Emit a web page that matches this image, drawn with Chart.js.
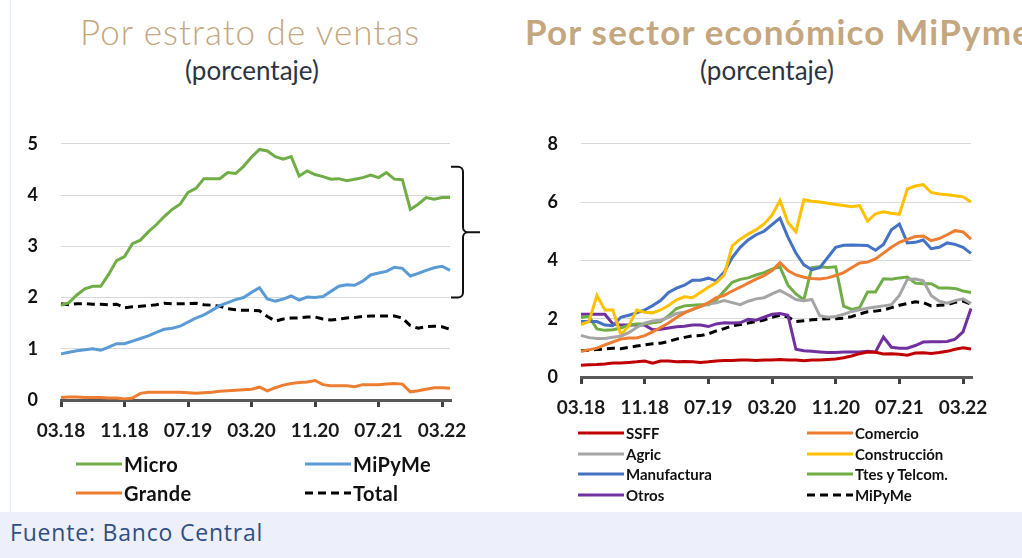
<!DOCTYPE html>
<html>
<head>
<meta charset="utf-8">
<script src="https://cdn.jsdelivr.net/npm/chart.js@4.4.0/dist/chart.umd.min.js"></script>
<style>
  body { margin: 0; width: 1022px; height: 558px; overflow: hidden; background: #fff; position: relative; font-family: Lato, sans-serif; }
  #edge { position: absolute; left: 10px; top: 0; width: 1px; height: 512px; background: #dfe6f3; }
  .title { position: absolute; top: 14px; font-size: 35px; line-height: 1; color: #c4a77f; white-space: nowrap; }
  #t1 { left: 60px; width: 380px; text-align: center; font-weight: 300; letter-spacing: 1px; }
  #t2 { left: 525px; font-weight: 700; letter-spacing: 1.2px; }
  .sub { position: absolute; top: 57px; font-size: 26px; line-height: 1; color: #2b3440; white-space: nowrap; transform: translateX(-50%); }
  #s1 { left: 252px; }
  #s2 { left: 767px; }
  .box { position: absolute; }
  #box1 { left: 0; top: 110px; width: 500px; height: 350px; }
  #box2 { left: 510px; top: 110px; width: 512px; height: 320px; }
  .legend { position: absolute; display: grid; font-weight: 700; color: #111; }
  #legend1 { left: 76px; top: 449px; grid-template-columns: 229px 160px; grid-auto-rows: 29px; font-size: 20px; letter-spacing: 0.4px; }
  #legend2 { left: 578px; top: 423px; grid-template-columns: 229px 170px; grid-auto-rows: 20.5px; font-size: 15px; }
  .item { display: flex; align-items: center; white-space: nowrap; }
  .item svg { margin-right: 2px; }
  #foot { position: absolute; left: 0; top: 512px; width: 1022px; height: 46px; background: #edf0fa; }
  #foot span { position: absolute; left: 10px; top: 9px; font-family: "Open Sans", sans-serif; font-size: 23px; line-height: 1; letter-spacing: 0.8px; color: #2f4f7f; }
</style>
</head>
<body>
<div id="edge"></div>
<div class="title" id="t1">Por estrato de ventas</div>
<div class="title" id="t2">Por sector económico MiPyme</div>
<div class="sub" id="s1">(porcentaje)</div>
<div class="sub" id="s2">(porcentaje)</div>
<div class="box" id="box1"><canvas id="chartVentas"></canvas></div>
<div class="box" id="box2"><canvas id="chartSector"></canvas></div>
<div class="legend" id="legend1"></div>
<div class="legend" id="legend2"></div>
<div id="foot"><span>Fuente: Banco Central</span></div>

<script>
// months 03.18 .. 04.22
const months = [
  '03.18','04.18','05.18','06.18','07.18','08.18','09.18','10.18','11.18','12.18',
  '01.19','02.19','03.19','04.19','05.19','06.19','07.19','08.19','09.19','10.19',
  '11.19','12.19','01.20','02.20','03.20','04.20','05.20','06.20','07.20','08.20',
  '09.20','10.20','11.20','12.20','01.21','02.21','03.21','04.21','05.21','06.21',
  '07.21','08.21','09.21','10.21','11.21','12.21','01.22','02.22','03.22','04.22'
];
const labelEvery = 8;

// Por estrato de ventas
const micro = [1.85,1.90,2.05,2.17,2.22,2.22,2.45,2.72,2.80,3.05, 3.12,3.28,3.42,3.58,3.72,3.82,4.05,4.13,4.32,4.32,
  4.32,4.44,4.42,4.56,4.74,4.89,4.86,4.75,4.70,4.75, 4.37,4.47,4.40,4.36,4.31,4.32,4.28,4.31,4.34,4.39,
  4.34,4.44,4.31,4.30,3.72,3.82,3.95,3.92,3.95,3.95];
const mipymeEstrato = [0.90,0.93,0.96,0.98,1.00,0.97,1.03,1.10,1.10,1.15, 1.20,1.25,1.32,1.38,1.40,1.44,1.52,1.60,1.66,1.75,
  1.84,1.90,1.96,2.00,2.10,2.19,1.97,1.93,1.97,2.03, 1.95,2.01,2.00,2.02,2.12,2.22,2.25,2.24,2.32,2.44,
  2.48,2.51,2.59,2.57,2.42,2.47,2.53,2.58,2.61,2.53];
const grande = [0.05,0.06,0.06,0.05,0.05,0.05,0.04,0.04,0.02,0.04, 0.13,0.15,0.15,0.15,0.15,0.15,0.14,0.13,0.14,0.15,
  0.17,0.18,0.19,0.20,0.21,0.25,0.18,0.24,0.29,0.32, 0.34,0.35,0.38,0.30,0.28,0.28,0.28,0.26,0.30,0.30,
  0.30,0.31,0.32,0.31,0.16,0.18,0.21,0.24,0.24,0.23];
const total = [1.88,1.86,1.88,1.88,1.87,1.87,1.86,1.87,1.80,1.82, 1.83,1.84,1.86,1.89,1.88,1.88,1.88,1.89,1.86,1.85,
  1.83,1.78,1.76,1.75,1.75,1.74,1.63,1.54,1.58,1.60, 1.60,1.62,1.62,1.58,1.56,1.58,1.60,1.61,1.63,1.64,
  1.64,1.64,1.64,1.60,1.45,1.40,1.43,1.44,1.43,1.38];
const braceRange = [2.0, 4.55];

// Por sector economico MiPyme
const ssff = [0.40,0.42,0.43,0.45,0.48,0.48,0.50,0.52,0.55,0.47, 0.55,0.55,0.52,0.53,0.52,0.50,0.52,0.55,0.57,0.57,
  0.58,0.58,0.57,0.58,0.58,0.60,0.58,0.58,0.56,0.58, 0.58,0.60,0.62,0.66,0.72,0.80,0.86,0.85,0.79,0.80,
  0.78,0.75,0.82,0.83,0.81,0.84,0.88,0.95,1.00,0.96];
const comercio = [0.88,0.93,0.99,1.10,1.20,1.30,1.34,1.34,1.42,1.55, 1.70,1.85,2.04,2.20,2.32,2.42,2.55,2.72,2.80,2.95,
  3.08,3.22,3.36,3.48,3.65,3.92,3.65,3.50,3.42,3.38, 3.36,3.40,3.48,3.58,3.75,3.91,3.94,4.05,4.25,4.45,
  4.62,4.72,4.82,4.84,4.68,4.75,4.88,5.02,4.98,4.73];
const agric = [1.43,1.35,1.32,1.32,1.36,1.40,1.52,1.70,1.85,1.92, 1.95,2.05,2.18,2.22,2.30,2.42,2.50,2.55,2.62,2.55,
  2.48,2.60,2.68,2.72,2.85,2.97,2.82,2.66,2.62,2.66, 2.10,2.05,2.08,2.15,2.25,2.31,2.36,2.40,2.44,2.48,
  2.80,3.35,3.36,3.30,2.80,2.60,2.53,2.62,2.68,2.52];
const construccion = [1.80,1.90,2.80,2.30,2.30,1.45,1.75,2.30,2.22,2.20, 2.30,2.45,2.65,2.75,2.72,2.90,3.08,3.24,3.50,4.50,
  4.73,4.90,5.05,5.25,5.55,6.05,5.30,4.98,6.08,6.03, 6.00,5.96,5.92,5.88,5.84,5.88,5.35,5.60,5.67,5.62,
  5.58,6.45,6.55,6.60,6.33,6.28,6.25,6.22,6.18,6.00];
const manufactura = [1.90,1.90,1.90,1.78,1.76,2.05,2.12,2.20,2.30,2.45, 2.62,2.90,3.05,3.15,3.32,3.32,3.39,3.30,3.60,4.10,
  4.45,4.70,4.88,5.00,5.23,5.45,4.80,4.25,3.85,3.68, 3.75,4.10,4.45,4.52,4.53,4.52,4.51,4.35,4.55,5.05,
  5.25,4.60,4.62,4.70,4.40,4.45,4.60,4.55,4.45,4.24];
const ttesTelcom = [2.04,2.08,1.65,1.60,1.62,1.68,1.78,1.82,1.82,1.86, 1.90,2.10,2.35,2.44,2.46,2.48,2.48,2.65,2.95,3.25,
  3.35,3.40,3.50,3.58,3.70,3.78,3.15,2.85,2.65,3.75, 3.78,3.76,3.78,2.43,2.32,2.38,2.92,2.92,3.37,3.35,
  3.40,3.43,3.22,3.20,3.20,3.05,3.05,3.04,2.95,2.90];
const otros = [2.15,2.15,2.15,2.15,1.82,1.78,1.78,1.78,1.78,1.62, 1.64,1.68,1.72,1.74,1.78,1.78,1.73,1.82,1.86,1.85,
  1.86,1.98,1.95,2.05,2.15,2.18,2.12,0.95,0.90,0.88, 0.86,0.84,0.84,0.86,0.86,0.86,0.88,0.86,1.37,1.02,
  0.99,0.99,1.08,1.20,1.21,1.21,1.22,1.30,1.55,2.35];
const mipymeSector = [0.90,0.92,0.94,0.96,0.99,0.97,1.02,1.06,1.10,1.14, 1.16,1.22,1.30,1.36,1.41,1.42,1.48,1.58,1.66,1.76,
  1.80,1.85,1.90,1.95,2.05,2.12,2.06,1.90,1.93,1.96, 1.98,2.00,2.00,2.02,2.07,2.16,2.24,2.26,2.30,2.38,
  2.46,2.52,2.58,2.55,2.44,2.46,2.48,2.56,2.60,2.50];

const dash = [8, 5];

function line(label, data, color, dashed) {
  return {
    label: label,
    data: data,
    borderColor: color,
    backgroundColor: color,
    borderWidth: 3,
    borderDash: dashed ? dash : [],
    pointRadius: 0,
    tension: 0,
    fill: false
  };
}

function options(yMax, step, yWidth, xHeight, rightPad) {
  return {
    responsive: true,
    maintainAspectRatio: false,
    animation: false,
    layout: { padding: { top: 24, right: rightPad, left: 0, bottom: 0 } },
    plugins: { legend: { display: false }, tooltip: { enabled: false } },
    scales: {
      x: {
        grid: {
          drawOnChartArea: false,
          drawTicks: true,
          tickLength: 7,
          lineWidth: 3,
          color: c => (c.index % labelEvery === 0 ? '#404040' : 'rgba(0,0,0,0)')
        },
        border: { display: true, color: '#595959', width: 3 },
        ticks: {
          autoSkip: false,
          maxRotation: 0,
          padding: 12,
          color: '#1a1a1a',
          font: { family: 'Lato', size: 19, weight: 'bold' },
          callback: (v, i) => (i % labelEvery === 0 ? months[i] : '')
        },
        afterFit: s => { s.height = xHeight; }
      },
      y: {
        min: 0,
        max: yMax,
        grid: { color: '#d9d9d9', lineWidth: 1, drawTicks: false },
        border: { display: false },
        ticks: {
          stepSize: step,
          padding: 23,
          color: '#111',
          font: { family: 'Lato', size: 18, weight: 'bold' }
        },
        afterFit: s => { s.width = yWidth; }
      }
    }
  };
}

// curly brace to the right of the first chart
const bracePlugin = {
  id: 'brace',
  afterDraw(chart) {
    const { ctx, chartArea, scales } = chart;
    const top = scales.y.getPixelForValue(braceRange[1]);
    const bot = scales.y.getPixelForValue(braceRange[0]);
    const mid = (top + bot) / 2;
    const x0 = chartArea.right + 1, xv = chartArea.right + 13, xt = chartArea.right + 30, r = 5;
    ctx.save();
    ctx.strokeStyle = '#111';
    ctx.lineWidth = 2;
    ctx.beginPath();
    ctx.moveTo(x0, top);
    ctx.arcTo(xv, top, xv, top + r, r);
    ctx.lineTo(xv, mid - r);
    ctx.arcTo(xv, mid, xv + r, mid, r);
    ctx.lineTo(xt, mid);
    ctx.moveTo(xv + r, mid);
    ctx.arcTo(xv, mid, xv, mid + r, r);
    ctx.lineTo(xv, bot - r);
    ctx.arcTo(xv, bot, x0, bot, r);
    ctx.lineTo(x0, bot);
    ctx.stroke();
    ctx.restore();
  }
};

function buildLegend(chart, id) {
  const box = document.getElementById(id);
  chart.data.datasets.forEach(ds => {
    const item = document.createElement('div');
    item.className = 'item';
    const dashAttr = ds.borderDash.length ? ' stroke-dasharray="' + ds.borderDash.join(',') + '"' : '';
    item.innerHTML = '<svg width="46" height="6"><line x1="0" y1="3" x2="46" y2="3" stroke="' + ds.borderColor +
      '" stroke-width="3"' + dashAttr + '/></svg><span>' + ds.label + '</span>';
    box.appendChild(item);
  });
}

const chartVentas = new Chart(document.getElementById('chartVentas'), {
  type: 'line',
  data: {
    labels: months,
    datasets: [
      line('Micro', micro, '#70ad47'),
      line('MiPyMe', mipymeEstrato, '#5b9bd5'),
      line('Grande', grande, '#ed7d31'),
      line('Total', total, '#000', true)
    ]
  },
  options: options(5, 1, 61, 60, 50),
  plugins: [bracePlugin]
});

const chartSector = new Chart(document.getElementById('chartSector'), {
  type: 'line',
  data: {
    labels: months,
    datasets: [
      line('SSFF', ssff, '#c00000'),
      line('Comercio', comercio, '#ed7d31'),
      line('Agric', agric, '#a5a5a5'),
      line('Construcción', construccion, '#ffc000'),
      line('Manufactura', manufactura, '#4472c4'),
      line('Ttes y Telcom.', ttesTelcom, '#70ad47'),
      line('Otros', otros, '#7030a0'),
      line('MiPyMe', mipymeSector, '#000', true)
    ]
  },
  options: options(8, 2, 71, 53, 51)
});

buildLegend(chartVentas, 'legend1');
buildLegend(chartSector, 'legend2');
</script>
</body>
</html>
